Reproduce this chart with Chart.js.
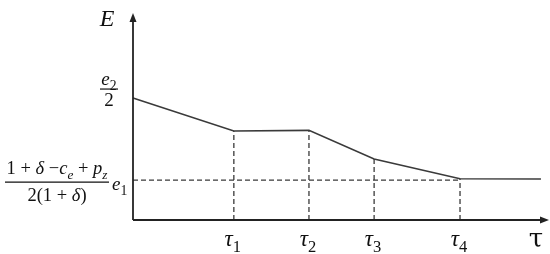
<!DOCTYPE html>
<html><head><meta charset="utf-8">
<script src="https://cdn.jsdelivr.net/npm/chart.js@4"></script>
<style>html,body{margin:0;padding:0;background:#fff;}canvas{display:block;}</style>
</head><body>
<canvas id="c" width="550" height="254"></canvas>
<script>
// ---- data ----
const tauX = [2.43, 4.24, 5.81, 7.88];          // positions of τ1..τ4
const tauSubs = ['1', '2', '3', '4'];           // tick label subscripts
const curveX = [0, 2.43, 4.24, 5.81, 7.88, 9.83];
const curveY = [5.92, 4.32, 4.35, 2.96, 2.0, 1.99];
const e1Level = 1.94;                           // (1+δ−cₑ+p_z)/(2(1+δ)) e₁
const e2Level = curveY[0];                      // e₂/2
const xAxisTitle = 'τ';
const yAxisTitle = 'E';

const LINE = '#3a3a3a';
const DASH = [5, 3];
const datasets = [{
  data: curveX.map((x, i) => ({x, y: curveY[i]})),
  borderColor: LINE, borderWidth: 1.6, pointRadius: 0, showLine: true, clip: false
}, {
  data: [{x: 0, y: e1Level}, {x: tauX[3], y: e1Level}],
  borderColor: LINE, borderWidth: 1.3, borderDash: DASH, pointRadius: 0, showLine: true, clip: false
}];
tauX.forEach((tx, i) => {
  datasets.push({
    data: [{x: tx, y: 0}, {x: tx, y: curveY[i + 1]}],
    borderColor: LINE, borderWidth: 1.3, borderDash: DASH, pointRadius: 0, showLine: true, clip: false
  });
});

function drawRich(ctx, parts, x, y, size, align) {
  let w = 0;
  const fonts = parts.map(p => {
    const s = p.sub ? size * 0.72 : size;
    const f = (p.it ? 'italic ' : '') + s + 'px "Liberation Serif", "DejaVu Serif", serif';
    ctx.font = f;
    const mw = ctx.measureText(p.t).width;
    w += mw;
    return {f, mw};
  });
  let cx = align === 'center' ? x - w / 2 : (align === 'right' ? x - w : x);
  ctx.textAlign = 'left';
  ctx.textBaseline = 'alphabetic';
  parts.forEach((p, i) => {
    ctx.font = fonts[i].f;
    ctx.fillText(p.t, cx, p.sub ? y + size * 0.25 : y);
    cx += fonts[i].mw;
  });
  return w;
}

const annot = {
  id: 'annot',
  afterDatasetsDraw(chart) {
    const {ctx, scales: {x, y}} = chart;
    const x0 = x.getPixelForValue(0), y0 = y.getPixelForValue(0);
    const xEnd = x.right + 1, yTop = y.top - 1;
    ctx.save();
    ctx.strokeStyle = '#222'; ctx.fillStyle = '#222'; ctx.lineWidth = 1.8;
    ctx.beginPath(); ctx.moveTo(x0, y0); ctx.lineTo(x0, yTop + 6); ctx.stroke();
    ctx.beginPath(); ctx.moveTo(x0, yTop); ctx.lineTo(x0 - 3.5, yTop + 9); ctx.lineTo(x0 + 3.5, yTop + 9); ctx.closePath(); ctx.fill();
    ctx.beginPath(); ctx.moveTo(x0, y0); ctx.lineTo(xEnd - 6, y0); ctx.stroke();
    ctx.beginPath(); ctx.moveTo(xEnd, y0); ctx.lineTo(xEnd - 9, y0 - 3.5); ctx.lineTo(xEnd - 9, y0 + 3.5); ctx.closePath(); ctx.fill();

    ctx.fillStyle = '#111';
    tauX.forEach((tx, i) => {
      drawRich(ctx, [{t: 'τ', it: true}, {t: tauSubs[i], sub: true}], x.getPixelForValue(tx) - 1, y0 + 26, 23, 'center');
    });
    ctx.font = '26px "DejaVu Serif", serif'; ctx.textAlign = 'center'; ctx.textBaseline = 'alphabetic';
    ctx.fillText(xAxisTitle, xEnd - 13, y0 + 27);
    ctx.font = 'italic 24px "Liberation Serif", serif';
    ctx.fillText(yAxisTitle, x0 - 26, 26);

    const ye2 = y.getPixelForValue(e2Level);
    const cx2 = x0 - 24;
    drawRich(ctx, [{t: 'e', it: true}, {t: '2', sub: true}], cx2, ye2 - 13, 19, 'center');
    ctx.lineWidth = 1.2; ctx.strokeStyle = '#111';
    ctx.beginPath(); ctx.moveTo(cx2 - 9, ye2 - 9); ctx.lineTo(cx2 + 9, ye2 - 9); ctx.stroke();
    drawRich(ctx, [{t: '2'}], cx2, ye2 + 8, 19, 'center');

    const ye1 = y.getPixelForValue(e1Level);
    const cxf = 57;
    drawRich(ctx, [{t: '1 + '}, {t: 'δ', it: true}, {t: ' −'}, {t: 'c', it: true}, {t: 'e', it: true, sub: true}, {t: ' + '}, {t: 'p', it: true}, {t: 'z', it: true, sub: true}], cxf, ye1 - 6, 18.5, 'center');
    ctx.beginPath(); ctx.moveTo(5, ye1 + 2); ctx.lineTo(109, ye1 + 2); ctx.stroke();
    drawRich(ctx, [{t: '2(1 + '}, {t: 'δ', it: true}, {t: ')'}], cxf, ye1 + 21, 18.5, 'center');
    drawRich(ctx, [{t: 'e', it: true}, {t: '1', sub: true}], 112, ye1 + 10, 19, 'left');
    ctx.restore();
  }
};

new Chart(document.getElementById('c'), {
  type: 'scatter',
  data: {datasets},
  options: {
    responsive: false, animation: false,
    layout: {padding: {left: 133, right: 2, top: 14, bottom: 34}},
    plugins: {legend: {display: false}, tooltip: {enabled: false}},
    scales: {
      x: {type: 'linear', min: 0, max: 10, display: false},
      y: {type: 'linear', min: 0, max: 10, display: false}
    }
  },
  plugins: [annot]
});
</script>
</body></html>
